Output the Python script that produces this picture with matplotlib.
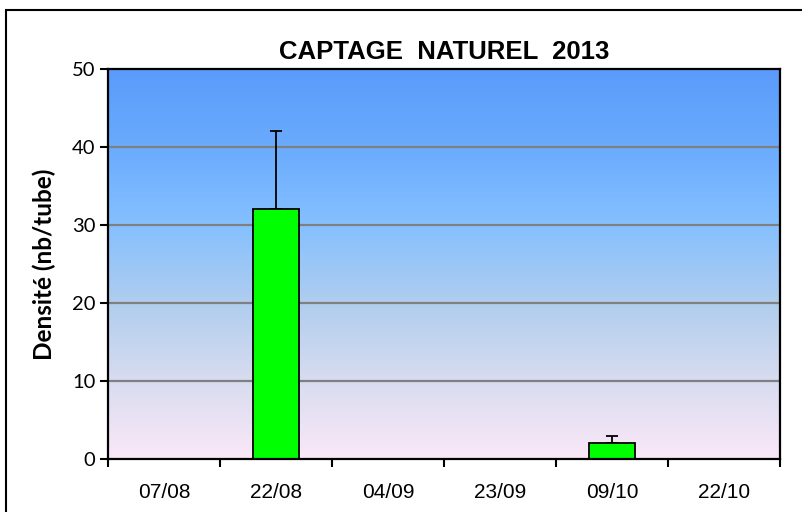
import matplotlib.pyplot as plt
import numpy as np
from matplotlib.colors import LinearSegmentedColormap
from matplotlib.patches import Rectangle

dates = ['07/08', '22/08', '04/09', '23/09', '09/10', '22/10']
density = [0, 32, 0, 0, 2, 0]
err_up = [0, 10, 0, 0, 1, 0]

fig = plt.figure(figsize=(8.02, 5.12), dpi=100)
fig.patches.append(Rectangle((6 / 802, -0.1), 1.2, (502 / 512) + 0.1, transform=fig.transFigure,
                             fill=False, edgecolor='black', linewidth=1.5))

ax = fig.add_axes([108 / 802, 53 / 512, 672 / 802, 390 / 512])

# background gradient (bottom -> top)
grad = LinearSegmentedColormap.from_list('bg', [
    (0.0, '#fae8f8'), (0.2, '#d8dcf0'), (0.4, '#b0cdee'),
    (0.6, '#85c0ff'), (0.8, '#6aabfd'), (1.0, '#5b9bfb')])
x = np.arange(len(dates))
ax.imshow(np.linspace(0, 1, 256).reshape(-1, 1), cmap=grad, aspect='auto',
          extent=[-0.5, len(dates) - 0.5, 0, 50], origin='lower', zorder=0)

for yv in [10, 20, 30, 40]:
    ax.axhline(yv, color='#808080', linewidth=1.6, zorder=1)

yerr = [np.zeros(len(err_up)), err_up]
ax.bar(x, density, width=0.41, color='#00ff00', edgecolor='black', linewidth=1.3, zorder=3)
ax.errorbar(x, density, yerr=yerr, fmt='none', ecolor='black', elinewidth=1.3,
            capsize=4.5, capthick=1.3, zorder=2)

ax.set_xlim(-0.5, len(dates) - 0.5)
ax.set_ylim(0, 50)
ax.set_yticks([0, 10, 20, 30, 40, 50])
ax.set_yticklabels(['0', '10', '20', '30', '40', '50'], family='Lato', fontsize=14.5)

ax.set_xticks(np.arange(len(dates) + 1) - 0.5)
ax.set_xticklabels([])
ax.set_xticks(x, minor=True)
ax.set_xticklabels(dates, minor=True, family='Liberation Sans', fontsize=15)
ax.tick_params(axis='x', which='minor', length=0, pad=17)
ax.tick_params(axis='x', which='major', direction='out', length=6, width=1.5)
ax.tick_params(axis='y', direction='out', length=6, width=1.5, pad=3)

for s in ax.spines.values():
    s.set_linewidth(1.6)
    s.set_zorder(4)

ax.set_ylabel('Densité (nb/tube)', family='Lato', fontweight='bold', fontsize=17.5)
ax.yaxis.set_label_coords(-0.077, 0.5)
ax.set_title('CAPTAGE  NATUREL  2013', family='Liberation Sans', fontweight='bold',
             fontsize=18.5, pad=7)

fig.savefig('out.png', dpi=100)
